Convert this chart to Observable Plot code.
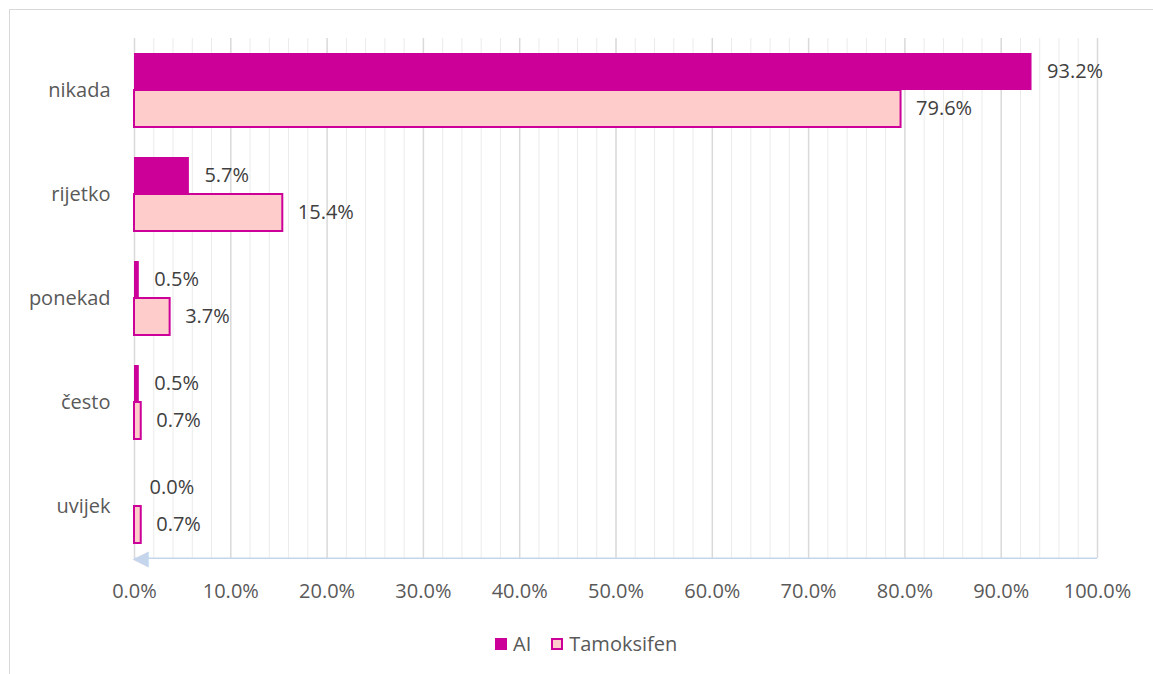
<!DOCTYPE html>
<html>
<head>
<meta charset="utf-8">
<script src="https://cdn.jsdelivr.net/npm/d3@7"></script>
<script src="https://cdn.jsdelivr.net/npm/@observablehq/plot@0.6"></script>
<style>
  html, body { margin: 0; padding: 0; background: #fff; }
  #wrap { position: relative; width: 1153px; height: 674px; overflow: hidden; font-family: "Open Sans", sans-serif; }
  #border { position: absolute; left: 9px; top: 9px; width: 1200px; height: 700px; border-left: 1.5px solid #d9d9d9; border-top: 1.5px solid #d9d9d9; }
  #chart { position: absolute; left: 0; top: 0; }
  #legend { position: absolute; top: 630px; left: 495px; display: flex; align-items: center; font-size: 20px; color: #595959; }
  .sw { display: inline-block; width: 12px; height: 12px; margin-right: 6px; box-sizing: border-box; }
  .item { display: flex; align-items: center; margin-right: 20px; }
</style>
</head>
<body>
<div id="wrap">
  <div id="border"></div>
  <div id="chart"></div>
  <div id="legend"></div>
</div>
<script>
const categories = ["nikada", "rijetko", "ponekad", "često", "uvijek"];
const seriesNames = ["AI", "Tamoksifen"];
const aiValues = [93.2, 5.7, 0.5, 0.5, 0.0];
const tamValues = [79.6, 15.4, 3.7, 0.7, 0.7];
const majorTicks = [0, 10, 20, 30, 40, 50, 60, 70, 80, 90, 100];
const minorTicks = d3.range(0, 101, 2).filter(v => v % 10 !== 0);

const colors = { AI: "#CC0099", Tamoksifen: "#FFCCCC" };
const strokes = { AI: "#CC0099", Tamoksifen: "#CC0099" };
const axisBlue = "#c5d6ec";

const data = [];
categories.forEach((c, i) => {
  data.push({ cat: c, series: "AI", value: aiValues[i] });
  data.push({ cat: c, series: "Tamoksifen", value: tamValues[i] });
});

const fmt = d => d.toFixed(1) + "%";

const W = 1153, H = 615, mT = 38, mB = 57, yPadOuter = 0.39;
const facetStep = (H - mT - mB) / categories.length;
const yStep = facetStep / (2 + 2 * yPadOuter);
const bottomOffset = yStep / 2 + yPadOuter * yStep;

const lastCat = categories[categories.length - 1];
const lastSeries = seriesNames[seriesNames.length - 1];

const marks = [
  Plot.ruleX(minorTicks, { stroke: "#ebebeb", strokeWidth: 1 }),
  Plot.ruleX(majorTicks, { stroke: "#d9d9d9", strokeWidth: 1.5 }),
  Plot.ruleY([{ cat: lastCat, s: lastSeries }], {
    y: "s", fy: "cat", x1: () => 0, x2: () => 100, dy: bottomOffset,
    stroke: axisBlue, strokeWidth: 1.5
  }),
  Plot.barX(data, {
    x: "value", y: "series", fy: "cat",
    fill: d => colors[d.series],
    stroke: d => d.series === "Tamoksifen" ? strokes.Tamoksifen : "none",
    strokeWidth: 2
  }),
  Plot.text(data, {
    x: "value", y: "series", fy: "cat",
    text: d => fmt(d.value),
    textAnchor: "start", dx: 15,
    fill: "#404040", fontSize: 20
  }),
  Plot.text([{ cat: lastCat, s: lastSeries, v: 0 }], {
    x: "v", y: "s", fy: "cat", dy: bottomOffset, text: () => "◀",
    textAnchor: "start", lineAnchor: "middle", dx: -2,
    fill: axisBlue, fontSize: 21, fontFamily: "DejaVu Sans"
  })
];

const chart = Plot.plot({
  width: W,
  height: H,
  marginLeft: 134,
  marginRight: 56,
  marginTop: mT,
  marginBottom: mB,
  style: { fontFamily: "Open Sans, sans-serif", fontSize: "20px", color: "#595959", background: "transparent" },
  x: { domain: [0, 100], ticks: majorTicks, tickFormat: fmt, tickSize: 0, tickPadding: 25, label: null },
  y: { domain: seriesNames, axis: null, paddingInner: 0, paddingOuter: yPadOuter },
  fy: { domain: categories, padding: 0, axis: "left", label: null, tickSize: 0, tickPadding: 24 },
  marks
});
document.getElementById("chart").appendChild(chart);

const legend = document.getElementById("legend");
seriesNames.forEach(s => {
  const item = document.createElement("div");
  item.className = "item";
  const sw = document.createElement("span");
  sw.className = "sw";
  sw.style.background = colors[s];
  if (s === "Tamoksifen") sw.style.border = "2px solid " + strokes[s];
  const t = document.createElement("span");
  t.textContent = s;
  item.appendChild(sw); item.appendChild(t);
  legend.appendChild(item);
});
</script>
</body>
</html>
